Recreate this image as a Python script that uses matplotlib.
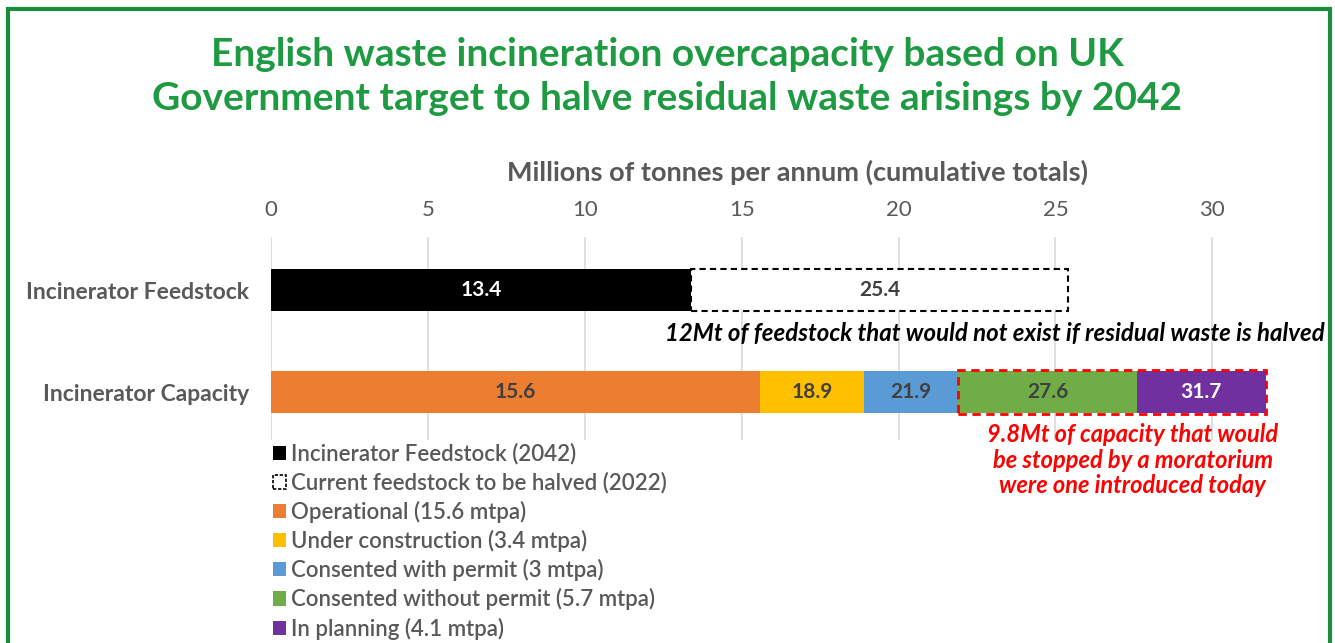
import matplotlib.pyplot as plt
from matplotlib.patches import Patch, Rectangle

# cumulative totals (Mt per annum)
feedstock_cum = [13.4, 25.4]
capacity_cum = [15.6, 18.9, 21.9, 27.6, 31.7]
categories = ['Incinerator Capacity', 'Incinerator Feedstock']
capacity_colors = ['#ED7D31', '#FFC000', '#5B9BD5', '#70AD47', '#7030A0']
capacity_label_colors = ['#404040', '#404040', '#404040', '#404040', 'white']
legend_labels = ['Incinerator Feedstock (2042)', 'Current feedstock to be halved (2022)',
                 'Operational (15.6 mtpa)', 'Under construction (3.4 mtpa)',
                 'Consented with permit (3 mtpa)', 'Consented without permit (5.7 mtpa)',
                 'In planning (4.1 mtpa)']
xticks = [0, 5, 10, 15, 20, 25, 30]

plt.rcParams['font.family'] = ['Lato', 'DejaVu Sans']
GREEN = '#1E9A43'
GRAY = '#595959'

fig = plt.figure(figsize=(13.35, 6.43), dpi=100)
ax = fig.add_axes([271 / 1335, 1 - 440 / 643, 1004 / 1335, 203 / 643])

h = 0.42
# feedstock row (y=1)
ax.barh(1, feedstock_cum[0], left=0, height=h, color='black')
ax.barh(1, feedstock_cum[1] - feedstock_cum[0], left=feedstock_cum[0], height=h,
        facecolor='white', edgecolor='black', linestyle=(0, (3, 2)), linewidth=1.5)
ax.text(feedstock_cum[0] / 2, 1, f'{feedstock_cum[0]}', ha='center', va='center',
        color='white', fontsize=15, fontweight='bold')
ax.text((feedstock_cum[0] + feedstock_cum[1]) / 2, 1, f'{feedstock_cum[1]}', ha='center',
        va='center', color='#404040', fontsize=15, fontweight='bold')

# capacity row (y=0)
prev = 0
for val, col, tcol in zip(capacity_cum, capacity_colors, capacity_label_colors):
    ax.barh(0, val - prev, left=prev, height=h, color=col)
    ax.text((prev + val) / 2, 0, f'{val}', ha='center', va='center', color=tcol,
            fontsize=15, fontweight='bold')
    prev = val

# moratorium box
ax.add_patch(Rectangle((capacity_cum[2], -h / 2 - 0.01), capacity_cum[4] - capacity_cum[2],
                       h + 0.02, fill=False, edgecolor='#FF0000', linestyle=(0, (3, 2)),
                       linewidth=2, zorder=5))

ax.text(33.6, 0.575, '12Mt of feedstock that would not exist if residual waste is halved',
        ha='right', va='center', fontsize=17.3, fontweight='bold', style='italic', color='black')
ax.text(27.47, -0.667, '9.8Mt of capacity that would\nbe stopped by a moratorium\nwere one introduced today',
        ha='center', va='center', fontsize=17, fontweight='bold', style='italic',
        color='#FF0000', linespacing=1.15)

ax.set_xlim(0, 32)
ax.set_ylim(-0.47, 1.52)
ax.set_yticks([0, 1])
ax.set_yticklabels(categories, fontsize=16.5, fontweight='bold', color=GRAY)
ax.set_xticks(xticks)
ax.xaxis.tick_top()
ax.xaxis.set_label_position('top')
ax.tick_params(axis='x', labelsize=16, labelcolor=GRAY, length=0, pad=12)
ax.tick_params(axis='y', length=0, pad=16)
ax.set_xlabel('Millions of tonnes per annum (cumulative totals)', fontsize=19.5,
              fontweight='bold', color=GRAY)
# label sits a bit right of the axes centre
ax.xaxis.set_label_coords(0.524, 1.32)
ax.xaxis.label.set_va('center')
ax.grid(axis='x', color='#D9D9D9', linewidth=1.2)
ax.set_axisbelow(True)
for s in ax.spines.values():
    s.set_visible(False)

handles = [Patch(facecolor='black'),
           Patch(facecolor='white', edgecolor='black', linestyle=(0, (2, 1)), linewidth=1.2)]
handles += [Patch(facecolor=c) for c in capacity_colors]
leg = fig.legend(handles, legend_labels, loc='upper left', bbox_to_anchor=(262 / 1335, 1 - 432 / 643),
                 frameon=False, fontsize=16, handlelength=0.6, handleheight=0.6,
                 handletextpad=0.2, labelspacing=0.32, borderpad=0)
for t in leg.get_texts():
    t.set_color(GRAY)
    t.set_fontweight('semibold')

fig.text(0.5, 1 - 55 / 643, 'English waste incineration overcapacity based on UK',
         ha='center', va='center', fontsize=28, fontweight='bold', color=GREEN)
fig.text(0.5, 1 - 98 / 643, 'Government target to halve residual waste arisings by 2042',
         ha='center', va='center', fontsize=28, fontweight='bold', color=GREEN)

# green frame round the whole graphic
fig.patches.append(Rectangle((8 / 1335, -0.02), 1322 / 1335, 1.02 - 9 / 643, transform=fig.transFigure,
                             fill=False, edgecolor='#1A8C3A', linewidth=3))

fig.savefig('out.png', dpi=100)
